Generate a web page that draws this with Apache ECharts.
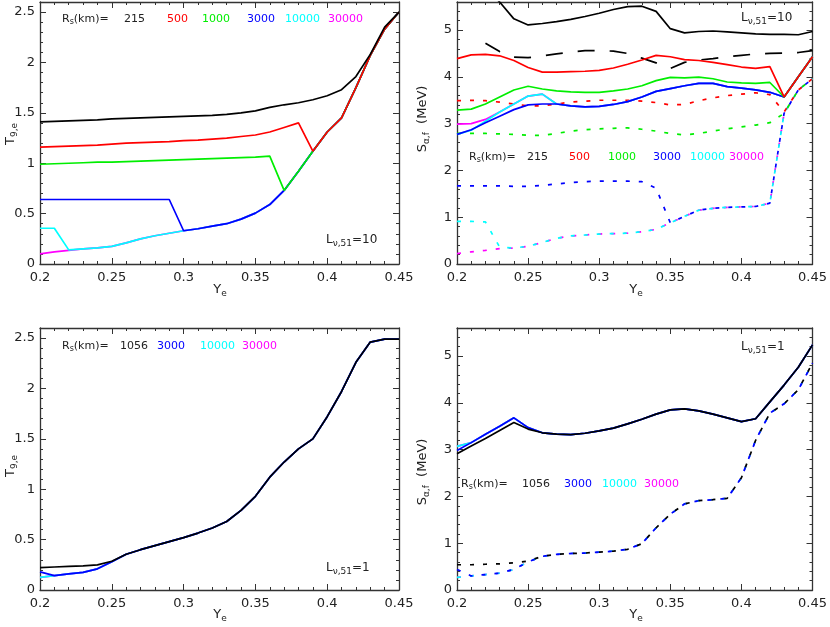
<!DOCTYPE html>
<html><head><meta charset="utf-8">
<script src="https://cdn.jsdelivr.net/npm/echarts@6/dist/echarts.min.js"></script>
<style>html,body{margin:0;padding:0;background:#fff}#c{width:830px;height:627px}</style>
</head><body><div id="c"></div>
<script>
// ---------- data ----------
const ye = [0.20,0.21,0.22,0.23,0.24,0.25,0.26,0.27,0.28,0.29,0.30,0.31,0.32,0.33,0.34,0.35,0.36,0.37,0.38,0.39,0.40,0.41,0.42,0.43,0.44,0.45];

// panel a: T9,e  (L=10)
const aT215   = [1.41,1.415,1.42,1.425,1.43,1.44,1.445,1.45,1.455,1.46,1.465,1.47,1.475,1.485,1.50,1.52,1.555,1.58,1.60,1.63,1.67,1.73,1.86,2.08,2.35,2.50];
const aT500   = [1.16,1.165,1.17,1.175,1.18,1.19,1.20,1.205,1.21,1.215,1.225,1.23,1.24,1.25,1.265,1.28,1.31,1.355,1.40,1.12,1.31,1.45,1.75,2.07,2.33,2.50];
const aT1000  = [0.99,0.995,1.0,1.005,1.01,1.01,1.015,1.02,1.025,1.03,1.035,1.04,1.045,1.05,1.055,1.06,1.07,0.73,0.92,1.12,1.31,1.45,1.75,2.07,2.33,2.50];
const aT3000  = [0.64,0.64,0.64,0.64,0.64,0.64,0.64,0.64,0.64,0.64,0.33,0.35,0.375,0.40,0.445,0.505,0.59,0.73,0.92,1.12,1.31,1.45,1.75,2.07,2.33,2.50];
const aT10000 = [0.355,0.355,0.14,0.15,0.16,0.175,0.21,0.25,0.28,0.305,0.33,0.35,0.375,0.40,0.445,0.505,0.59,0.73,0.92,1.12,1.31,1.45,1.75,2.07,2.33,2.50];
const aT30000 = [0.10,0.12,0.135,0.15,0.16,0.175,0.21,0.25,0.28,0.305,0.33,0.35,0.375,0.40,0.445,0.505,0.59,0.73,0.92,1.12,1.31,1.45,1.75,2.07,2.33,2.50];

// panel b: S (MeV) (L=10) solid = S_alpha, dotted = S_f
const bS215   = [6.6,6.2,5.9,5.6,5.24,5.11,5.14,5.18,5.23,5.29,5.36,5.44,5.50,5.51,5.40,5.03,4.94,4.97,4.98,4.96,4.94,4.92,4.91,4.91,4.90,4.97];
const bS500   = [4.39,4.47,4.48,4.45,4.35,4.20,4.10,4.10,4.11,4.12,4.14,4.19,4.27,4.36,4.46,4.43,4.37,4.35,4.31,4.26,4.21,4.18,4.22,3.57,4.0,4.43];
const bS1000  = [3.29,3.31,3.42,3.57,3.72,3.80,3.74,3.70,3.68,3.67,3.67,3.70,3.74,3.81,3.92,3.99,3.98,3.995,3.96,3.89,3.87,3.86,3.88,3.57,4.0,4.43];
const bS3000  = [2.77,2.87,3.02,3.16,3.30,3.40,3.42,3.42,3.38,3.36,3.37,3.41,3.47,3.57,3.69,3.75,3.81,3.86,3.86,3.79,3.76,3.72,3.67,3.57,4.0,4.43];
const bS10000 = [2.77,2.86,3.05,3.25,3.42,3.59,3.63,3.42,3.38,3.36,3.37,3.41,3.47,3.57,3.69,3.75,3.81,3.86,3.86,3.79,3.76,3.72,3.67,3.57,4.0,4.43];
const bS30000 = [2.99,3.0,3.09,3.25,3.42,3.59,3.63,3.42,3.38,3.36,3.37,3.41,3.47,3.57,3.69,3.75,3.81,3.86,3.86,3.79,3.76,3.72,3.67,3.57,4.0,4.43];
const bF215   = [null,null,4.72,4.54,4.42,4.41,4.45,4.49,4.53,4.56,4.56,4.55,4.50,4.40,4.30,4.18,4.31,4.36,4.39,4.43,4.46,4.49,4.50,4.51,4.52,4.56];
const bF500   = [3.49,3.50,3.49,3.46,3.42,3.38,3.38,3.42,3.46,3.48,3.50,3.50,3.50,3.48,3.45,3.40,3.41,3.49,3.55,3.60,3.63,3.66,3.62,3.25,3.72,3.96];
const bF1000  = [2.79,2.79,2.79,2.78,2.77,2.75,2.75,2.79,2.84,2.87,2.89,2.90,2.91,2.88,2.84,2.79,2.76,2.79,2.84,2.89,2.93,2.97,3.02,3.22,3.72,3.96];
const bF3000  = [1.67,1.67,1.67,1.67,1.66,1.66,1.68,1.71,1.74,1.76,1.77,1.77,1.77,1.76,1.62,0.88,1.02,1.15,1.19,1.21,1.22,1.23,1.30,3.22,3.72,3.96];
const bF10000 = [0.91,0.91,0.90,0.36,0.34,0.38,0.46,0.55,0.60,0.62,0.64,0.65,0.66,0.69,0.74,0.88,1.02,1.15,1.19,1.21,1.22,1.23,1.30,3.22,3.72,3.96];
const bF30000 = [0.22,0.26,0.29,0.33,0.34,0.38,0.46,0.55,0.60,0.62,0.64,0.65,0.66,0.69,0.74,0.88,1.02,1.15,1.19,1.21,1.22,1.23,1.30,3.22,3.72,3.96];

// panel c: T9,e (L=1)
const cT1056  = [0.222,0.228,0.234,0.24,0.249,0.285,0.355,0.40,0.44,0.48,0.52,0.565,0.615,0.68,0.79,0.93,1.12,1.27,1.40,1.50,1.72,1.97,2.26,2.46,2.49,2.49];
const cT3000  = [0.18,0.143,0.16,0.175,0.21,0.28,0.355,0.40,0.44,0.48,0.52,0.565,0.615,0.68,0.79,0.93,1.12,1.27,1.40,1.50,1.72,1.97,2.26,2.46,2.49,2.49];
const cT10000 = [0.126,0.143,0.16,0.175,0.21,0.28,0.355,0.40,0.44,0.48,0.52,0.565,0.615,0.68,0.79,0.93,1.12,1.27,1.40,1.50,1.72,1.97,2.26,2.46,2.49,2.49];
const cT30000 = [0.126,0.143,0.16,0.175,0.21,0.28,0.355,0.40,0.44,0.48,0.52,0.565,0.615,0.68,0.79,0.93,1.12,1.27,1.40,1.50,1.72,1.97,2.26,2.46,2.49,2.49];

// panel d: S (MeV) (L=1)
const dS1056  = [2.91,3.08,3.24,3.41,3.58,3.44,3.36,3.33,3.32,3.35,3.40,3.46,3.55,3.65,3.76,3.85,3.87,3.83,3.76,3.68,3.60,3.66,4.02,4.38,4.76,5.24];
const dS3000  = [2.98,3.15,3.33,3.50,3.68,3.47,3.36,3.33,3.32,3.35,3.40,3.46,3.55,3.65,3.76,3.85,3.87,3.83,3.76,3.68,3.60,3.66,4.02,4.38,4.76,5.24];
const dS10000 = [3.07,3.15,3.33,3.50,3.68,3.47,3.36,3.33,3.32,3.35,3.40,3.46,3.55,3.65,3.76,3.85,3.87,3.83,3.76,3.68,3.60,3.66,4.02,4.38,4.76,5.24];
const dS30000 = [3.07,3.15,3.33,3.50,3.68,3.47,3.36,3.33,3.32,3.35,3.40,3.46,3.55,3.65,3.76,3.85,3.87,3.83,3.76,3.68,3.60,3.66,4.02,4.38,4.76,5.24];
const dF1056  = [0.54,0.54,0.55,0.56,0.58,0.62,0.72,0.76,0.78,0.79,0.81,0.83,0.87,0.99,1.33,1.62,1.84,1.91,1.93,1.96,2.40,3.20,3.78,3.98,4.28,4.85];
const dF3000  = [0.44,0.30,0.33,0.36,0.44,0.60,0.72,0.76,0.78,0.79,0.81,0.83,0.87,0.99,1.33,1.62,1.84,1.91,1.93,1.96,2.40,3.20,3.78,3.98,4.28,4.85];
const dF10000 = [0.27,0.30,0.33,0.36,0.44,0.60,0.72,0.76,0.78,0.79,0.81,0.83,0.87,0.99,1.33,1.62,1.84,1.91,1.93,1.96,2.40,3.20,3.78,3.98,4.28,4.85];
const dF30000 = [0.27,0.30,0.33,0.36,0.44,0.60,0.72,0.76,0.78,0.79,0.81,0.83,0.87,0.99,1.33,1.62,1.84,1.91,1.93,1.96,2.40,3.20,3.78,3.98,4.28,4.85];

const radiiTop = ['215','500','1000','3000','10000','30000'];
const radiiBot = ['1056','3000','10000','30000'];
const xTicks = {min:0.2, max:0.45, major:0.05, minor:0.01};

// ---------- styling ----------
const FONT = '"DejaVu Sans", sans-serif';
const AX = '#333';
const C = {k:'#000000', r:'#ff0000', g:'#00ee00', b:'#0000ff', c:'#00ffff', m:'#ff00ff'};
const DOT = [4, 9];
const LDASH = [17, 15];

const grids = [
  {left:40, top:2, width:359, height:262},
  {left:457, top:2, width:358, height:262},
  {left:40, top:328, width:359, height:262},
  {left:457, top:328, width:358, height:262}
];
const yMax = [2.6, 5.6, 2.6, 5.6];
const yMaj = [0.5, 1, 0.5, 1];
const yMin = [0.1, 0.2, 0.1, 0.2];

const xAxis = [], yAxis = [];
grids.forEach((g, i) => {
  ['bottom', 'top'].forEach(pos => {
    xAxis.push({gridIndex:i, type:'value', position:pos, min:xTicks.min, max:xTicks.max, interval:xTicks.major,
      axisLine:{show:true, onZero:false, lineStyle:{color:AX, width:1.3}},
      axisTick:{show:true, inside:true, length:6, lineStyle:{color:AX, width:1}},
      axisLabel:{show:pos === 'bottom', fontFamily:FONT, fontSize:13, color:'#222', margin:7},
      splitLine:{show:false}});
    xAxis.push({gridIndex:i, type:'value', position:pos, min:xTicks.min, max:xTicks.max, interval:xTicks.minor,
      axisLine:{show:false, onZero:false},
      axisTick:{show:true, inside:true, length:3, lineStyle:{color:AX, width:1}},
      axisLabel:{show:false}, splitLine:{show:false}});
  });
  ['left', 'right'].forEach(pos => {
    const iv = yMaj[i];
    yAxis.push({gridIndex:i, type:'value', position:pos, min:0, max:yMax[i], interval:iv,
      axisLine:{show:true, onZero:false, lineStyle:{color:AX, width:1.3}},
      axisTick:{show:true, inside:true, length:6, lineStyle:{color:AX, width:1}},
      axisLabel:{show:pos === 'left', fontFamily:FONT, fontSize:13, color:'#222', margin:5,
        formatter: v => (Math.abs(v / iv - Math.round(v / iv)) < 1e-6 ? String(+v.toFixed(4)) : '')},
      splitLine:{show:false}});
    yAxis.push({gridIndex:i, type:'value', position:pos, min:0, max:yMax[i], interval:yMin[i],
      axisLine:{show:false, onZero:false},
      axisTick:{show:true, inside:true, length:3, lineStyle:{color:AX, width:1}},
      axisLabel:{show:false}, splitLine:{show:false}});
  });
});

const series = [];
function add(g, arr, color, dash) {
  series.push({type:'line', xAxisIndex:4 * g, yAxisIndex:4 * g,
    data: ye.map((x, k) => [x, arr[k]]),
    symbol:'none', showSymbol:false, silent:true, connectNulls:false, clip:true,
    lineStyle:{color:color, width:1.7, type: dash || 'solid'},
    z: 2 + series.length * 0.01});
}
// panel a
add(0, aT30000, C.m); add(0, aT10000, C.c); add(0, aT3000, C.b);
add(0, aT1000, C.g); add(0, aT500, C.r); add(0, aT215, C.k);
// panel b
add(1, bF30000, C.m, DOT); add(1, bF10000, C.c, DOT); add(1, bF3000, C.b, DOT);
add(1, bF1000, C.g, DOT); add(1, bF500, C.r, DOT); add(1, bF215, C.k, LDASH);
add(1, bS30000, C.m); add(1, bS10000, C.c); add(1, bS3000, C.b);
add(1, bS1000, C.g); add(1, bS500, C.r); add(1, bS215, C.k);
// panel c
add(2, cT30000, C.m); add(2, cT10000, C.c); add(2, cT3000, C.b); add(2, cT1056, C.k);
// panel d
add(3, dF30000, C.m, DOT); add(3, dF10000, C.c, DOT); add(3, dF3000, C.b, DOT); add(3, dF1056, C.k, DOT);
add(3, dS30000, C.m); add(3, dS10000, C.c); add(3, dS3000, C.b); add(3, dS1056, C.k);

// ---------- texts ----------
function rich(size, sub, color) {
  return {
    n:{fontFamily:FONT, fontSize:size, fill:color},
    s:{fontFamily:FONT, fontSize:sub, fill:color, padding:[Math.round(size * 0.55), 0, 0, 0]}
  };
}
function T(x, y, text, opt) {
  opt = opt || {};
  const size = opt.size || 11, color = opt.color || '#222';
  return {type:'text', x:x, y:y, rotation:opt.rot || 0, silent:true, z:100,
    style:{text:text, fill:color, fontFamily:FONT, fontSize:size,
      align:opt.align || 'left', verticalAlign:'middle',
      rich: rich(size, opt.sub || Math.round(size * 0.72), color)}};
}
const g = [];
const RS = '{n|R}{s|s}{n|(km)=}';
const rowColTop = [C.k, C.r, C.g, C.b, C.c, C.m];
const rowColBot = [C.k, C.b, C.c, C.m];
// panel a legend
g.push(T(62, 19, RS));
[124, 167, 202, 247, 285, 328].forEach((x, k) => g.push(T(x, 19, radiiTop[k], {color: rowColTop[k] === C.k ? '#222' : rowColTop[k]})));
// panel b legend
g.push(T(469, 157, RS));
[527, 569, 608, 653, 690, 729].forEach((x, k) => g.push(T(x, 157, radiiTop[k], {color: rowColTop[k] === C.k ? '#222' : rowColTop[k]})));
// panel c legend
g.push(T(62, 346, RS));
[120, 157, 200, 242].forEach((x, k) => g.push(T(x, 346, radiiBot[k], {color: rowColBot[k] === C.k ? '#222' : rowColBot[k]})));
// panel d legend
g.push(T(461, 484, RS));
[522, 564, 602, 644].forEach((x, k) => g.push(T(x, 484, radiiBot[k], {color: rowColBot[k] === C.k ? '#222' : rowColBot[k]})));
// luminosity labels
g.push(T(326, 240, '{n|L}{s|ν,51}{n|=10}', {size:12}));
g.push(T(741, 18, '{n|L}{s|ν,51}{n|=10}', {size:12}));
g.push(T(326, 568, '{n|L}{s|ν,51}{n|=1}', {size:12}));
g.push(T(741, 347, '{n|L}{s|ν,51}{n|=1}', {size:12}));
// axis names
[[220, 290], [636, 290], [220, 615], [636, 615]].forEach(p => g.push(T(p[0], p[1], '{n|Y}{s|e}', {size:13, align:'center'})));
g.push(T(11, 134, '{n|T}{s|9,e}', {size:13, align:'center', rot:Math.PI / 2}));
g.push(T(11, 466, '{n|T}{s|9,e}', {size:13, align:'center', rot:Math.PI / 2}));
g.push(T(423, 119, '{n|S}{s|α,f}{n|  (MeV)}', {size:13, align:'center', rot:Math.PI / 2}));
g.push(T(423, 472, '{n|S}{s|α,f}{n|  (MeV)}', {size:13, align:'center', rot:Math.PI / 2}));

const chart = echarts.init(document.getElementById('c'));
chart.setOption({
  animation:false,
  backgroundColor:'#fff',
  grid: grids.map(o => Object.assign({containLabel:false}, o)),
  xAxis: xAxis,
  yAxis: yAxis,
  series: series,
  graphic: g
});
</script>
</body></html>
